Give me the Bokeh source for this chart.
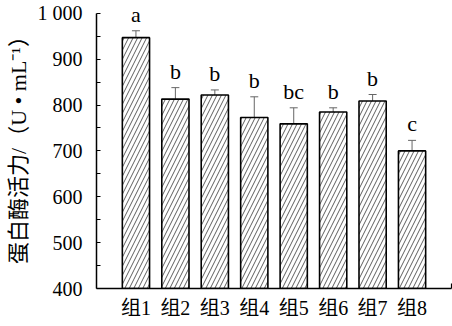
import math
from bokeh.plotting import figure
from bokeh.models import ColumnDataSource, FixedTicker, Whisker, TeeHead, Range1d
from bokeh.core.properties import value
from bokeh.embed import file_html
from bokeh.resources import INLINE

groups = ["组1", "组2", "组3", "组4", "组5", "组6", "组7", "组8"]
values = [947, 813, 822, 773, 759, 785, 809, 700]
errors = [15, 25, 11, 45, 35, 9, 14, 23]
letters = ["a", "b", "b", "b", "bc", "b", "b", "c"]
y_major = [400, 500, 600, 700, 800, 900, 1000]
y_minor = [450, 550, 650, 750, 850, 950]
y_tick_labels = ["400", "500", "600", "700", "800", "900", "1 000"]
y_label = "蛋白酶活力/（U • mL⁻¹）"

FONT = "'Liberation Serif', 'Noto Sans CJK SC'"

xs = list(range(1, len(groups) + 1))
src = ColumnDataSource(dict(
    x=xs, top=values,
    upper=[v + e for v, e in zip(values, errors)],
    lower=[v - e for v, e in zip(values, errors)],
    letter=letters,
))

# frame extends a little above 1000 so the "a" label is not clipped;
# the axis line itself stops at 1000 via bounds
p = figure(width=452, height=326, output_backend="svg", toolbar_location=None,
           x_range=Range1d(0, len(groups) + 1), y_range=Range1d(400, 1028),
           min_border_left=96, min_border_right=1, min_border_top=0, min_border_bottom=38)
p.outline_line_color = None
p.grid.grid_line_color = None
p.background_fill_color = "white"

p.vbar(x="x", top="top", bottom=400, width=0.69, source=src,
       fill_color="white", line_color="black", line_width=1.6,
       hatch_pattern="/", hatch_color="#333333", hatch_scale=9, hatch_weight=0.8)

w = Whisker(base="x", upper="upper", lower="lower", source=src,
            line_color="#666666", line_width=1,
            upper_head=TeeHead(size=8, line_color="#666666", line_width=1),
            lower_head=TeeHead(size=8, line_color="#666666", line_width=1))
p.add_layout(w)

p.text(x="x", y="upper", text="letter", source=src, text_align="center",
       text_baseline="bottom", y_offset=-4, text_font=value(FONT),
       text_font_size="22px", text_color="black")

# y axis
ya = p.yaxis[0]
ya.bounds = (400, 1000)
ya.ticker = FixedTicker(ticks=y_major, minor_ticks=y_minor)
ya.major_label_overrides = {t: l for t, l in zip(y_major, y_tick_labels)}
ya.major_tick_in = 4
ya.major_tick_out = 0
ya.minor_tick_in = 4
ya.minor_tick_out = 0
ya.axis_line_width = 1.5
ya.major_tick_line_width = 1.2
ya.minor_tick_line_width = 1.2
ya.major_label_text_font = FONT
ya.major_label_text_font_size = "20px"
ya.major_label_text_color = "black"
ya.major_label_standoff = 14
ya.axis_label = y_label
ya.axis_label_text_font = FONT
ya.axis_label_text_font_size = "22px"
ya.axis_label_text_font_style = "normal"
ya.axis_label_text_color = "black"
ya.axis_label_standoff = 4

# x axis
xa = p.xaxis[0]
xa.ticker = FixedTicker(ticks=xs, minor_ticks=[len(groups) + 1])
xa.major_label_overrides = {x: g for x, g in zip(xs, groups)}
xa.major_tick_line_color = None
xa.major_tick_in = 0
xa.major_tick_out = 0
xa.minor_tick_in = 5
xa.minor_tick_out = 0
xa.minor_tick_line_width = 1.2
xa.axis_line_width = 1.5
xa.major_label_text_font = FONT
xa.major_label_text_font_size = "20px"
xa.major_label_text_color = "black"
xa.major_label_standoff = 8

open("out.html", "w").write(file_html(p, INLINE))
